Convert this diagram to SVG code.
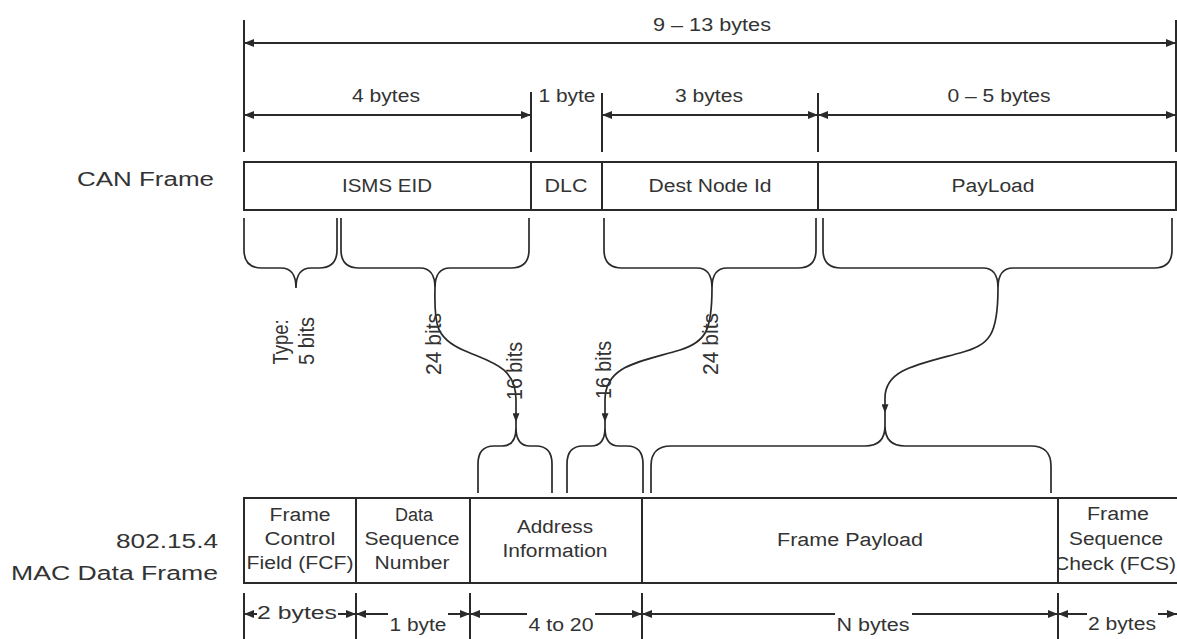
<svg xmlns="http://www.w3.org/2000/svg" width="1177" height="639" viewBox="0 0 1177 639">
<style>
text{font-family:"Liberation Sans",Arial,sans-serif;font-size:18px;fill:#333}
.m{text-anchor:middle}
.e{text-anchor:end}
.lbl{font-size:20px}
.rot{font-size:17px}
.box{fill:#fff;stroke:#2a2a2a;stroke-width:2}
.br{fill:none;stroke:#2a2a2a;stroke-width:1.7}
.dim{fill:none;stroke:#2a2a2a;stroke-width:2}
</style>
<defs>
<marker id="ah" viewBox="0 0 10 8" refX="10" refY="4" markerWidth="10" markerHeight="8" markerUnits="userSpaceOnUse" orient="auto-start-reverse"><path d="M0,0 L10,4 L0,8 z" fill="#2a2a2a"/></marker>
<marker id="ahs" viewBox="0 0 10 8" refX="10" refY="4" markerWidth="9" markerHeight="7" markerUnits="userSpaceOnUse" orient="auto"><path d="M0,0 L10,4 L0,8 z" fill="#2a2a2a"/></marker>
<clipPath id="fcsclip"><rect x="1059" y="498" width="130" height="85"/></clipPath>
</defs>
<rect width="1177" height="639" fill="#fff"/>

<!-- top dimensions -->
<g id="dims-top">
<path class="dim" d="M244,20 V152 M1176,20 V152 M531,92 V152 M602,93 V152 M818,93 V152"/>
<path class="dim" d="M244,43 H1176" marker-start="url(#ah)" marker-end="url(#ah)"/>
<path class="dim" d="M244,115 H531" marker-start="url(#ah)" marker-end="url(#ah)"/>
<path class="dim" d="M602,115 H818" marker-start="url(#ah)" marker-end="url(#ah)"/>
<path class="dim" d="M818,115 H1176" marker-start="url(#ah)" marker-end="url(#ah)"/>
<text class="m" x="712" y="31" textLength="118" lengthAdjust="spacingAndGlyphs">9 – 13 bytes</text>
<text class="m" x="386" y="102" textLength="68" lengthAdjust="spacingAndGlyphs">4 bytes</text>
<text class="m" x="567" y="102" textLength="57" lengthAdjust="spacingAndGlyphs">1 byte</text>
<text class="m" x="709" y="102" textLength="68" lengthAdjust="spacingAndGlyphs">3 bytes</text>
<text class="m" x="999" y="102" textLength="103" lengthAdjust="spacingAndGlyphs">0 – 5 bytes</text>
</g>

<!-- CAN frame -->
<g id="can-label"><text class="e lbl" x="214" y="186" textLength="137" lengthAdjust="spacingAndGlyphs">CAN Frame</text></g>
<g id="can-isms-eid"><rect class="box" x="244" y="162" width="287" height="48"/><text class="m" x="387" y="192" textLength="90" lengthAdjust="spacingAndGlyphs">ISMS EID</text></g>
<g id="can-dlc"><rect class="box" x="531" y="162" width="71" height="48"/><text class="m" x="566" y="192" textLength="43" lengthAdjust="spacingAndGlyphs">DLC</text></g>
<g id="can-dest"><rect class="box" x="602" y="162" width="216" height="48"/><text class="m" x="710" y="192" textLength="123" lengthAdjust="spacingAndGlyphs">Dest Node Id</text></g>
<g id="can-payload"><rect class="box" x="818" y="162" width="358" height="48"/><text class="m" x="993" y="192" textLength="83" lengthAdjust="spacingAndGlyphs">PayLoad</text></g>

<!-- upper braces -->
<g id="brace-type"><path class="br" d="M244,218 V250 Q244,268 262,268 H281 Q296,268 296,288 Q296,268 311,268 H319 Q337,268 337,250 V218"/></g>
<g id="brace-eid"><path class="br" d="M341,218 V250 Q341,268 359,268 H420 Q435,268 435,288 Q435,268 450,268 H511 Q529,268 529,250 V218"/></g>
<g id="brace-dest"><path class="br" d="M604,218 V250 Q604,268 622,268 H697 Q712,268 712,288 Q712,268 727,268 H798 Q816,268 816,250 V218"/></g>
<g id="brace-payload"><path class="br" d="M823,218 V250 Q823,268 841,268 H983 Q998,268 998,288 Q998,268 1013,268 H1154 Q1172,268 1172,250 V218"/></g>

<!-- lower braces -->
<g id="brace-addr1"><path class="br" d="M478,493 V464 Q478,446 494,446 H502 Q516,446 516,428 Q516,446 530,446 H536 Q552,446 552,464 V493 M516,428 V422"/></g>
<g id="brace-addr2"><path class="br" d="M567,493 V464 Q567,446 583,446 H591 Q605,446 605,428 Q605,446 619,446 H627 Q643,446 643,464 V493 M605,428 V422"/></g>
<g id="brace-fpayload"><path class="br" d="M651,493 V466 Q651,446 671,446 H865 Q885,446 885,426 Q885,446 905,446 H1031 Q1051,446 1051,466 V493 M885,426 V413"/></g>

<!-- connectors -->
<g id="connectors">
<path class="br" d="M435,288 C434,325 436,338 463,350 C490,362 516,366 516,400 V422" marker-end="url(#ahs)"/>
<path class="br" d="M712,288 C712,330 706,342 680,350 C640,362 605,365 605,400 V422" marker-end="url(#ahs)"/>
<path class="br" d="M998,288 C998,335 990,345 960,353 C915,365 885,370 885,398 V413" marker-end="url(#ahs)"/>
</g>

<!-- bit labels -->
<g id="bit-labels">
<text class="m rot" transform="translate(288,342) scale(1.3,1) rotate(-90)" textLength="45" lengthAdjust="spacingAndGlyphs">Type:</text>
<text class="m rot" transform="translate(314,341) scale(1.3,1) rotate(-90)" textLength="48" lengthAdjust="spacingAndGlyphs">5 bits</text>
<text class="m rot" transform="translate(441,344) scale(1.3,1) rotate(-90)" textLength="62" lengthAdjust="spacingAndGlyphs">24 bits</text>
<text class="m rot" transform="translate(522,371) scale(1.3,1) rotate(-90)" textLength="58" lengthAdjust="spacingAndGlyphs">16 bits</text>
<text class="m rot" transform="translate(611,370) scale(1.3,1) rotate(-90)" textLength="58" lengthAdjust="spacingAndGlyphs">16 bits</text>
<text class="m rot" transform="translate(718,344) scale(1.3,1) rotate(-90)" textLength="62" lengthAdjust="spacingAndGlyphs">24 bits</text>
</g>

<!-- MAC frame -->
<g id="mac-label">
<text class="e lbl" x="218" y="548" textLength="102" lengthAdjust="spacingAndGlyphs">802.15.4</text>
<text class="e lbl" x="218" y="580" textLength="207" lengthAdjust="spacingAndGlyphs">MAC Data Frame</text>
</g>
<g id="mac-fcf"><rect class="box" x="244" y="498" width="112" height="85"/>
<text class="m" x="300" y="521" textLength="61" lengthAdjust="spacingAndGlyphs">Frame</text>
<text class="m" x="300" y="545" textLength="71" lengthAdjust="spacingAndGlyphs">Control</text>
<text class="m" x="300" y="569" textLength="107" lengthAdjust="spacingAndGlyphs">Field (FCF)</text></g>
<g id="mac-dsn"><rect class="box" x="356" y="498" width="114" height="85"/>
<text class="m" x="414" y="521" textLength="38" lengthAdjust="spacingAndGlyphs">Data</text>
<text class="m" x="412" y="545" textLength="95" lengthAdjust="spacingAndGlyphs">Sequence</text>
<text class="m" x="412" y="569" textLength="75" lengthAdjust="spacingAndGlyphs">Number</text></g>
<g id="mac-addr"><rect class="box" x="470" y="498" width="172" height="85"/>
<text class="m" x="555" y="533" textLength="76" lengthAdjust="spacingAndGlyphs">Address</text>
<text class="m" x="555" y="557" textLength="105" lengthAdjust="spacingAndGlyphs">Information</text></g>
<g id="mac-payload"><rect class="box" x="642" y="498" width="416" height="85"/>
<text class="m" x="850" y="546" textLength="146" lengthAdjust="spacingAndGlyphs">Frame Payload</text></g>
<g id="mac-fcs"><rect class="box" x="1058" y="498" width="130" height="85"/>
<g clip-path="url(#fcsclip)">
<text class="m" x="1118" y="520" textLength="62" lengthAdjust="spacingAndGlyphs">Frame</text>
<text class="m" x="1116" y="545" textLength="94" lengthAdjust="spacingAndGlyphs">Sequence</text>
<text class="m" x="1115" y="570" textLength="122" lengthAdjust="spacingAndGlyphs">Check (FCS)</text></g></g>

<!-- bottom dimensions -->
<g id="dims-bottom">
<path class="dim" d="M244,593 V639 M356,593 V639 M470,593 V639 M642,593 V639 M1058,593 V639"/>
<path class="dim" d="M257,614 H244" marker-end="url(#ah)"/>
<path class="dim" d="M338,614 H356" marker-end="url(#ah)"/>
<path class="dim" d="M388,614 H356" marker-end="url(#ah)"/>
<path class="dim" d="M448,614 H470" marker-end="url(#ah)"/>
<path class="dim" d="M527,614 H470" marker-end="url(#ah)"/>
<path class="dim" d="M595,614 H642" marker-end="url(#ah)"/>
<path class="dim" d="M835,614 H642" marker-end="url(#ah)"/>
<path class="dim" d="M912,614 H1058" marker-end="url(#ah)"/>
<path class="dim" d="M1087,614 H1058" marker-end="url(#ah)"/>
<path class="dim" d="M1158,614 H1177" marker-end="url(#ah)"/>
<text class="m" x="297" y="619" textLength="80" lengthAdjust="spacingAndGlyphs">2 bytes</text>
<text class="m" x="418" y="631" textLength="57" lengthAdjust="spacingAndGlyphs">1 byte</text>
<text class="m" x="561" y="631" textLength="65" lengthAdjust="spacingAndGlyphs">4 to 20</text>
<text class="m" x="873" y="631" textLength="73" lengthAdjust="spacingAndGlyphs">N bytes</text>
<text class="m" x="1122" y="630" textLength="68" lengthAdjust="spacingAndGlyphs">2 bytes</text>
</g>
</svg>
